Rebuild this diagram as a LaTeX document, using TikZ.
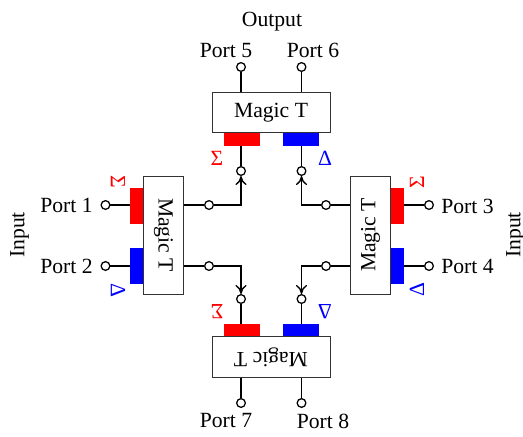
\documentclass[tikz,border=0pt]{standalone}
\usepackage{fontspec}
\setmainfont{Liberation Serif}
\usetikzlibrary{arrows.meta}
\definecolor{sumred}{RGB}{255,0,0}
\definecolor{diffblue}{RGB}{0,0,255}
\tikzset{
    magict/.style={draw=black!80, fill=white, line width=0.6pt, minimum width=29.5mm, minimum height=10.2mm, inner sep=0pt},
    stub/.style={fill=#1, draw=none, inner sep=0pt},
    portdot/.style={circle, draw=black, fill=white, line width=0.9pt, minimum size=6.2pt, inner sep=0pt},
    wire/.style={line width=0.95pt, black},
    lbl/.style={font=\fontsize{15.4}{17}\selectfont, inner sep=0pt},
}
\begin{document}
\begin{tikzpicture}[x=0.025cm, y=-0.025cm, >={Computer Modern Rightarrow[length=6.5pt,width=8pt]}]
    \useasboundingbox (0,0) rectangle (523,436);

    % colored stubs
    \foreach \name/\cx/\cy/\w/\h/\col in {
        topS/242/139/36/14/sumred, topD/301/139/36/14/diffblue,
        botS/242/331/36/14/sumred, botD/301/331/36/14/diffblue,
        lefS/137/206/14/36/sumred, lefD/137/266/14/36/diffblue,
        rigS/397/206/14/36/sumred, rigD/397/266/14/36/diffblue}
    \node[stub=\col, minimum width=\w*0.025cm, minimum height=\h*0.025cm] (\name) at (\cx,\cy) {};

    % port circles
    \foreach \name/\cx/\cy in {
        p1/105.5/205, p2/105.5/266, p3/429/205, p4/429/266,
        p5/241/67, p6/301.5/67, p7/241/403, p8/301.5/403,
        tl/241/171, tr/301.5/171, bl/241/299, br/301.5/299,
        lu/209/205, ld/209/266, ru/326/205, rd/326/266}
    \node[portdot] (\name) at (\cx,\cy) {};

    % boxes
    \node[magict, lbl] (mtTop) at (271,112.5) {Magic T};
    \node[magict, lbl, rotate=180] (mtBot) at (271,357) {Magic T};
    \node[magict, lbl, rotate=-90] (mtLef) at (163.5,235) {Magic T};
    \node[magict, lbl, rotate=90] (mtRig) at (370.5,235) {Magic T};

    % wires
    \draw[wire] (p5) -- (p5 |- mtTop.north);
    \draw[wire] (p6) -- (p6 |- mtTop.north);
    \draw[wire] (p7) -- (p7 |- mtBot.north);
    \draw[wire] (p8) -- (p8 |- mtBot.north);
    \draw[wire] (p1) -- (p1 -| lefS.west);
    \draw[wire] (p2) -- (p2 -| lefD.west);
    \draw[wire] (p3) -- (p3 -| rigS.east);
    \draw[wire] (p4) -- (p4 -| rigD.east);
    \draw[wire] (tl) -- (tl |- topS.south);
    \draw[wire] (tr) -- (tr |- topD.south);
    \draw[wire] (bl) -- (bl |- botS.north);
    \draw[wire] (br) -- (br |- botD.north);
    \draw[wire] (lu -| mtLef.north) -- (lu);
    \draw[wire] (ld -| mtLef.north) -- (ld);
    \draw[wire] (ru -| mtRig.north) -- (ru);
    \draw[wire] (rd -| mtRig.north) -- (rd);
    \draw[wire, ->] (lu) -| (tl);
    \draw[wire, ->] (ld) -| (bl);
    \draw[wire, ->] (ru) -| (tr);
    \draw[wire, ->] (rd) -| (br);

    % labels
    \node[lbl] (out) at (272,21.5) {Output};
    \node[lbl, rotate=90] (inL) at (19.5,235) {Input};
    \node[lbl, rotate=90] (inR) at (515.5,235) {Input};
    \node[lbl] (n1) at (66.5,205.5) {Port 1};
    \node[lbl] (n2) at (66.5,266) {Port 2};
    \node[lbl] (n3) at (467.5,206) {Port 3};
    \node[lbl] (n4) at (467.5,266) {Port 4};
    \node[lbl] (n5) at (226,50.5) {Port 5};
    \node[lbl] (n6) at (313,50.5) {Port 6};
    \node[lbl] (n7) at (226,421) {Port 7};
    \node[lbl] (n8) at (323,421) {Port 8};

    % sum and difference marks
    \foreach \name/\cx/\cy/\rot/\col/\txt in {
        sT/217/158/0/sumred/Σ, dT/325/158/0/diffblue/Δ,
        sB/217/312/180/sumred/Σ, dB/325/312/180/diffblue/Δ,
        sL/118/182/-90/sumred/Σ, dL/118/290/-90/diffblue/Δ,
        sR/417/182/90/sumred/Σ, dR/417/290/90/diffblue/Δ}
    \node[lbl, text=\col, rotate=\rot] (\name) at (\cx,\cy) {\txt};
\end{tikzpicture}
\end{document}
